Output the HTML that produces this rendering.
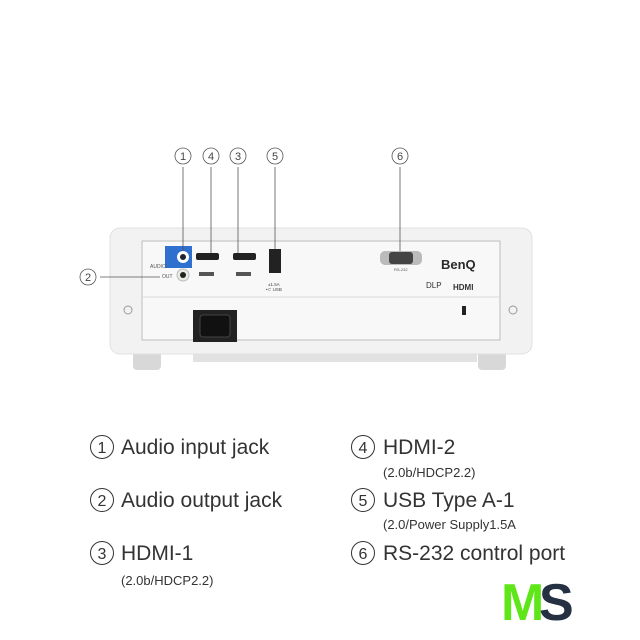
<!DOCTYPE html>
<html><head><meta charset="utf-8"><style>
html,body{margin:0;padding:0;background:#fff}
svg{display:block}
text{font-family:"Liberation Sans","DejaVu Sans",sans-serif}
</style></head><body>
<svg width="640" height="640" viewBox="0 0 640 640" xmlns="http://www.w3.org/2000/svg">
<rect width="640" height="640" fill="#fff"/>
<rect x="193" y="350" width="284" height="12" fill="#e2e2e2"/>
<rect x="133" y="350" width="28" height="20" rx="4" fill="#d8d8d8"/>
<rect x="478" y="350" width="28" height="20" rx="4" fill="#d8d8d8"/>
<rect x="110" y="228" width="422" height="126" rx="10" fill="#f2f2f2" stroke="#e0e0e0"/>
<rect x="142" y="241" width="358" height="99" fill="#f8f8f8" stroke="#bdbdbd"/>
<line x1="142" y1="297" x2="500" y2="297" stroke="#dadada"/>
<circle cx="128" cy="310" r="4" fill="none" stroke="#999"/>
<circle cx="513" cy="310" r="4" fill="none" stroke="#999"/>
<rect x="193" y="310" width="44" height="32" fill="#222"/>
<rect x="200" y="315" width="30" height="22" rx="3" fill="#111" stroke="#444"/>
<rect x="165" y="246" width="27" height="22" fill="#2f6fd0"/>
<circle cx="183" cy="257" r="6" fill="#fff"/><circle cx="183" cy="257" r="3" fill="#223"/>
<circle cx="183" cy="275" r="6" fill="#e8ece0" stroke="#bbb"/><circle cx="183" cy="275" r="3" fill="#222"/>
<text x="150" y="268" font-size="5" fill="#555">AUDIO</text>
<text x="162" y="278" font-size="5" fill="#555">OUT</text>
<rect x="196" y="253" width="23" height="7" rx="2" fill="#222"/>
<rect x="233" y="253" width="23" height="7" rx="2" fill="#222"/>
<rect x="199" y="272" width="15" height="4" fill="#555"/>
<rect x="236" y="272" width="15" height="4" fill="#555"/>
<rect x="269" y="249" width="12" height="24" fill="#222"/>
<text x="268" y="286" font-size="4.5" fill="#444">±1.5A</text>
<text x="266" y="291" font-size="4.5" fill="#444">•⊂ USB</text>
<rect x="380" y="251" width="42" height="14" rx="5" fill="#bbb"/>
<rect x="389" y="252" width="24" height="12" rx="3" fill="#444"/>
<text x="394" y="271" font-size="4" fill="#555">RS-232</text>
<text x="441" y="269" font-size="13" font-weight="bold" fill="#2a2a2a">BenQ</text>
<text x="426" y="288" font-size="8" fill="#333">DLP</text>
<text x="453" y="290" font-size="8" font-weight="bold" fill="#333">HDMI</text>
<rect x="462" y="306" width="4" height="9" fill="#222"/>
<g stroke="#555" stroke-width="0.8" fill="none">
<line x1="183" y1="167" x2="183" y2="251"/>
<line x1="211" y1="167" x2="211" y2="253"/>
<line x1="238" y1="167" x2="238" y2="253"/>
<line x1="275" y1="167" x2="275" y2="249"/>
<line x1="400" y1="167" x2="400" y2="251"/>
<line x1="100" y1="277" x2="160" y2="277"/>
<circle cx="183" cy="156" r="8"/><circle cx="211" cy="156" r="8"/><circle cx="238" cy="156" r="8"/>
<circle cx="275" cy="156" r="8"/><circle cx="400" cy="156" r="8"/><circle cx="88" cy="277" r="8"/>
</g>
<g font-size="11" fill="#444" text-anchor="middle">
<text x="183" y="160">1</text><text x="211" y="160">4</text><text x="238" y="160">3</text>
<text x="275" y="160">5</text><text x="400" y="160">6</text><text x="88" y="281">2</text>
</g>
<g stroke="#333" stroke-width="1" fill="none">
<circle cx="102" cy="447" r="11.5"/><circle cx="102" cy="500" r="11.5"/><circle cx="102" cy="553" r="11.5"/>
<circle cx="363" cy="447" r="11.5"/><circle cx="363" cy="500" r="11.5"/><circle cx="363" cy="553" r="11.5"/>
</g>
<g font-size="16" fill="#333" text-anchor="middle">
<text x="102" y="453">1</text><text x="102" y="506">2</text><text x="102" y="559">3</text>
<text x="363" y="453">4</text><text x="363" y="506">5</text><text x="363" y="559">6</text>
</g>
<g font-size="21" fill="#333">
<text x="121" y="454">Audio input jack</text>
<text x="121" y="507">Audio output jack</text>
<text x="121" y="560">HDMI-1</text>
<text x="383" y="454">HDMI-2</text>
<text x="383" y="507">USB Type A-1</text>
<text x="383" y="560">RS-232 control port</text>
</g>
<g font-size="13" fill="#333">
<text x="121" y="585">(2.0b/HDCP2.2)</text>
<text x="383" y="477">(2.0b/HDCP2.2)</text>
<text x="383" y="529">(2.0/Power Supply1.5A</text>
</g>
<text x="501" y="620" font-size="52" font-weight="bold" fill="#5ee619" letter-spacing="-6">M</text>
<text x="539" y="620" font-size="52" font-weight="bold" fill="#253042">S</text>
</svg>
</body></html>
